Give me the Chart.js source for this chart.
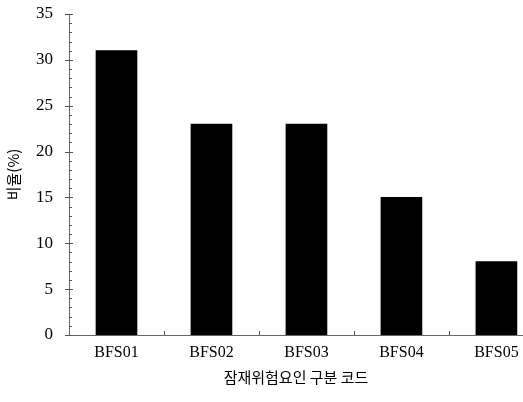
<!DOCTYPE html>
<html>
<head>
<meta charset="utf-8">
<script src="https://cdn.jsdelivr.net/npm/chart.js@4"></script>
<style>
  html, body { margin: 0; padding: 0; background: #fff; }
  #wrap { width: 523px; height: 402px; }
</style>
</head>
<body>
<div id="wrap"><canvas id="chart" width="523" height="402"></canvas></div>
<script>
// 카테고리와 값
const categories = ['BFS01', 'BFS02', 'BFS03', 'BFS04', 'BFS05'];
const ratios = [31, 23, 23, 15, 8];
const yTicks = [0, 5, 10, 15, 20, 25, 30, 35];

// 축에 작은 눈금 그리기
const minorTicks = {
  id: 'minorTicks',
  afterDatasetsDraw(chart) {
    const ctx = chart.ctx;
    const x = chart.scales.x;
    const y = chart.scales.y;
    ctx.save();
    ctx.strokeStyle = '#555';
    ctx.lineWidth = 1;
    ctx.beginPath();
    for (let v = 0; v <= 35; v++) {
      const py = Math.round(y.getPixelForValue(v)) + 0.5;
      const major = yTicks.includes(v);
      ctx.moveTo(x.left - (major ? 4 : 0), py);
      ctx.lineTo(x.left + (major ? 4 : 3), py);
    }
    for (let i = 0; i < categories.length - 1; i++) {
      const px = Math.round(x.getPixelForValue(i + 0.5)) + 0.5;
      ctx.moveTo(px, y.bottom);
      ctx.lineTo(px, y.bottom - 4);
    }
    ctx.stroke();
    ctx.restore();
  }
};

new Chart(document.getElementById('chart'), {
  type: 'bar',
  data: {
    datasets: [{
      data: ratios.map((v, i) => ({ x: i, y: v })),
      backgroundColor: '#000',
      borderWidth: 0,
      barThickness: 41
    }]
  },
  options: {
    responsive: false,
    animation: false,
    layout: { padding: { top: 14, right: 0, bottom: 0, left: 0 } },
    plugins: { legend: { display: false }, tooltip: { enabled: false } },
    scales: {
      x: {
        type: 'linear',
        offset: false,
        min: -0.5,
        max: 4.28,
        afterFit(scale) {
          scale.height = 67;
          scale.paddingLeft = 0;
          scale.paddingRight = 0;
        },
        afterBuildTicks(scale) {
          scale.ticks = categories.map((c, i) => ({ value: i }));
        },
        grid: { display: false, drawTicks: false },
        border: { display: true, color: '#666', width: 1 },
        ticks: {
          padding: 8,
          color: '#000',
          font: { family: 'Liberation Serif', size: 16 },
          callback: (v) => categories[v],
          maxRotation: 0
        },
        title: {
          display: true,
          text: '잠재위험요인 구분 코드',
          color: '#000',
          font: { family: 'Noto Sans CJK KR', size: 15 },
          padding: { top: 4, bottom: 16 }
        }
      },
      y: {
        min: 0,
        max: 35,
        afterFit(scale) {
          scale.width = 69;
          scale.paddingTop = 0;
          scale.paddingBottom = 0;
        },
        afterBuildTicks(scale) {
          scale.ticks = yTicks.map(v => ({ value: v }));
        },
        grid: { display: false, drawTicks: false },
        border: { display: true, color: '#666', width: 1 },
        ticks: {
          padding: 16,
          color: '#000',
          font: { family: 'Liberation Serif', size: 17 }
        },
        title: {
          display: true,
          text: '비율(%)',
          color: '#000',
          font: { family: 'Noto Sans CJK KR', size: 15 },
          padding: { top: 4, bottom: 0 }
        }
      }
    }
  },
  plugins: [minorTicks]
});
</script>
</body>
</html>
